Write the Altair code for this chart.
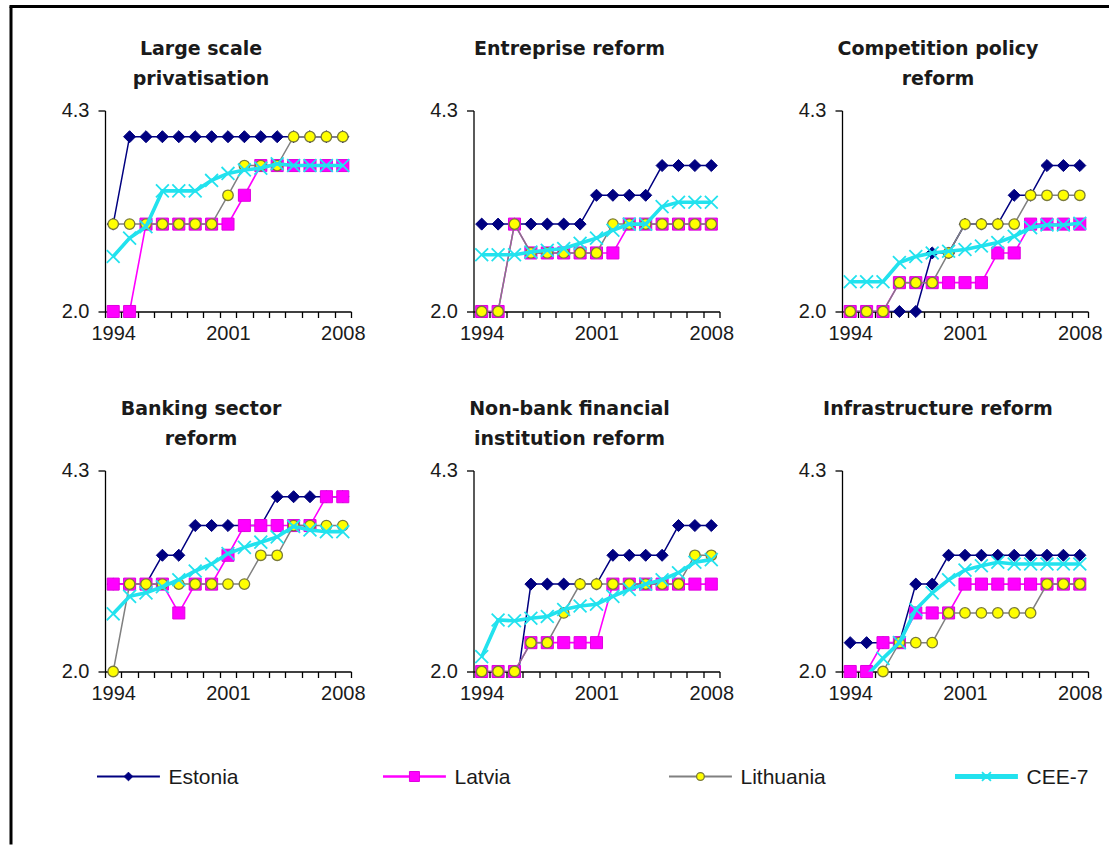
import altair as alt
import pandas as pd

years = list(range(1994, 2009))
countries = ["Estonia", "Latvia", "Lithuania", "CEE-7"]

panel_keys = ["priv", "ent", "comp", "bank", "nonbank", "infra"]
panel_titles = {
    "priv": ["Large scale", "privatisation"],
    "ent": ["Entreprise reform"],
    "comp": ["Competition policy", "reform"],
    "bank": ["Banking sector", "reform"],
    "nonbank": ["Non-bank financial", "institution reform"],
    "infra": ["Infrastructure reform"],
}

estonia = {
    "priv":    [3.0, 4.0, 4.0, 4.0, 4.0, 4.0, 4.0, 4.0, 4.0, 4.0, 4.0, 4.0, 4.0, 4.0, 4.0],
    "ent":     [3.0, 3.0, 3.0, 3.0, 3.0, 3.0, 3.0, 3.33, 3.33, 3.33, 3.33, 3.67, 3.67, 3.67, 3.67],
    "comp":    [2.0, 2.0, 2.0, 2.0, 2.0, 2.67, 2.67, 3.0, 3.0, 3.0, 3.33, 3.33, 3.67, 3.67, 3.67],
    "bank":    [3.0, 3.0, 3.0, 3.33, 3.33, 3.67, 3.67, 3.67, 3.67, 3.67, 4.0, 4.0, 4.0, 4.0, 4.0],
    "nonbank": [1.67, 1.67, 1.67, 3.0, 3.0, 3.0, 3.0, 3.0, 3.33, 3.33, 3.33, 3.33, 3.67, 3.67, 3.67],
    "infra":   [2.33, 2.33, 2.33, 2.33, 3.0, 3.0, 3.33, 3.33, 3.33, 3.33, 3.33, 3.33, 3.33, 3.33, 3.33],
}
latvia = {
    "priv":    [2.0, 2.0, 3.0, 3.0, 3.0, 3.0, 3.0, 3.0, 3.33, 3.67, 3.67, 3.67, 3.67, 3.67, 3.67],
    "ent":     [2.0, 2.0, 3.0, 2.67, 2.67, 2.67, 2.67, 2.67, 2.67, 3.0, 3.0, 3.0, 3.0, 3.0, 3.0],
    "comp":    [2.0, 2.0, 2.0, 2.33, 2.33, 2.33, 2.33, 2.33, 2.33, 2.67, 2.67, 3.0, 3.0, 3.0, 3.0],
    "bank":    [3.0, 3.0, 3.0, 3.0, 2.67, 3.0, 3.0, 3.33, 3.67, 3.67, 3.67, 3.67, 3.67, 4.0, 4.0],
    "nonbank": [2.0, 2.0, 2.0, 2.33, 2.33, 2.33, 2.33, 2.33, 3.0, 3.0, 3.0, 3.0, 3.0, 3.0, 3.0],
    "infra":   [2.0, 2.0, 2.33, 2.33, 2.67, 2.67, 2.67, 3.0, 3.0, 3.0, 3.0, 3.0, 3.0, 3.0, 3.0],
}
lithuania = {
    "priv":    [3.0, 3.0, 3.0, 3.0, 3.0, 3.0, 3.0, 3.33, 3.67, 3.67, 3.67, 4.0, 4.0, 4.0, 4.0],
    "ent":     [2.0, 2.0, 3.0, 2.67, 2.67, 2.67, 2.67, 2.67, 3.0, 3.0, 3.0, 3.0, 3.0, 3.0, 3.0],
    "comp":    [2.0, 2.0, 2.0, 2.33, 2.33, 2.33, 2.67, 3.0, 3.0, 3.0, 3.0, 3.33, 3.33, 3.33, 3.33],
    "bank":    [2.0, 3.0, 3.0, 3.0, 3.0, 3.0, 3.0, 3.0, 3.0, 3.33, 3.33, 3.67, 3.67, 3.67, 3.67],
    "nonbank": [2.0, 2.0, 2.0, 2.33, 2.33, 2.67, 3.0, 3.0, 3.0, 3.0, 3.0, 3.0, 3.0, 3.33, 3.33],
    "infra":   [1.67, 1.67, 2.0, 2.33, 2.33, 2.33, 2.67, 2.67, 2.67, 2.67, 2.67, 2.67, 3.0, 3.0, 3.0],
}
cee7 = {
    "priv":    [2.63, 2.84, 2.97, 3.38, 3.38, 3.38, 3.50, 3.58, 3.62, 3.64, 3.69, 3.67, 3.67, 3.67, 3.67],
    "ent":     [2.65, 2.65, 2.65, 2.68, 2.70, 2.72, 2.78, 2.84, 2.93, 3.0, 3.0, 3.2, 3.25, 3.25, 3.25],
    "comp":    [2.34, 2.34, 2.34, 2.56, 2.63, 2.67, 2.69, 2.71, 2.75, 2.79, 2.86, 2.96, 2.99, 2.99, 3.01],
    "bank":    [2.66, 2.86, 2.90, 2.97, 3.05, 3.15, 3.23, 3.35, 3.42, 3.48, 3.54, 3.66, 3.62, 3.60, 3.60],
    "nonbank": [2.17, 2.59, 2.58, 2.61, 2.63, 2.71, 2.75, 2.77, 2.86, 2.94, 3.0, 3.05, 3.13, 3.25, 3.28],
    "infra":   [1.75, 1.95, 2.15, 2.33, 2.71, 2.90, 3.05, 3.16, 3.21, 3.25, 3.23, 3.23, 3.23, 3.23, 3.23],
}
series = {"Estonia": estonia, "Latvia": latvia, "Lithuania": lithuania, "CEE-7": cee7}

rows = []
for c in countries:
    for p in panel_keys:
        for yr, v in zip(years, series[c][p]):
            rows.append({"panel": p, "country": c, "year": yr, "value": v})
df = pd.DataFrame(rows)

# styles
X_PATH = "M-1,-1L1,1M-1,1L1,-1"
style = {
    "Estonia": dict(line="#000080", lw=1.5, shape="diamond", fill="#000080", stroke="#000080", size=145, sw=1, filled=True),
    "Latvia": dict(line="#FF00FF", lw=1.6, shape="square", fill="#FF00FF", stroke="#E000E0", size=145, sw=1, filled=True),
    "Lithuania": dict(line="#808080", lw=1.5, shape="circle", fill="#FFFF00", stroke="#7A7A3A", size=110, sw=1.3, filled=True),
    "CEE-7": dict(line="#22E2EE", lw=3.6, shape=X_PATH, fill=None, stroke="#22E2EE", size=165, sw=1.8, filled=False),
}

xticks = [1993.5 + i for i in range(16)]
label_expr = ("datum.value == 1993.5 ? '1994' : datum.value == 2000.5 ? '2001' : "
              "datum.value == 2007.5 ? '2008' : ''")

PW, PH = 246, 201
ROW_GAP = 159

X = alt.X("year:Q", scale=alt.Scale(domain=[1993.5, 2008.5], nice=False, zero=False),
          axis=alt.Axis(title=None, values=xticks, labelExpr=label_expr, labelOffset=8.2,
                        tickSize=6, labelPadding=6, labelFlush=False, labelOverlap=False, grid=False))
Y = alt.Y("value:Q", scale=alt.Scale(domain=[2.0, 4.3], nice=False, zero=False),
          axis=alt.Axis(title=None, values=[2.0, 4.3], format=".1f", tickSize=7,
                        labelPadding=9, grid=False))


def panel(key):
    base = alt.Chart(df).transform_filter(alt.datum.panel == key)
    layers = []
    for c in countries:
        s = style[c]
        dc = base.transform_filter(alt.datum.country == c)
        layers.append(dc.mark_line(color=s["line"], strokeWidth=s["lw"], clip=True).encode(x=X, y=Y))
        pk = dict(shape=s["shape"], size=s["size"], stroke=s["stroke"], strokeWidth=s["sw"],
                  filled=s["filled"], opacity=1)
        if s["filled"]:
            pk["fill"] = s["fill"]
        layers.append(dc.transform_filter(alt.datum.value >= 2.0).mark_point(**pk).encode(x=X, y=Y))
    t = panel_titles[key]
    dy = -30 if len(t) == 1 else 0
    return alt.layer(*layers).properties(
        width=PW, height=PH,
        title=alt.TitleParams(text=t, dx=-27, dy=dy, offset=12))


# legend (drawn in a small cell, items spread beyond it with an explicit range)
leg_df = pd.DataFrame({"country": countries, "idx": [0, 1, 2, 3]})
LX = alt.Scale(domain=[0, 3], range=[0, 858], nice=False, zero=False)
leg_base = alt.Chart(leg_df).transform_calculate(
    xa="datum.idx - 0.028", xb="datum.idx + 0.192", xm="datum.idx + 0.082", xt="datum.idx + 0.222")
leg_layers = []
leg_marker = {"Estonia": 75, "Latvia": 100, "Lithuania": 60, "CEE-7": 80}
leg_lw = {"Estonia": 2.2, "Latvia": 2.6, "Lithuania": 2.2, "CEE-7": 5}
LEG_Y = -54
for c in countries:
    s = style[c]
    dc = leg_base.transform_filter(alt.datum.country == c)
    leg_layers.append(dc.mark_rule(color=s["line"], strokeWidth=leg_lw[c]).encode(
        x=alt.X("xa:Q", scale=LX, axis=None), x2="xb:Q", y=alt.value(LEG_Y)))
    pk = dict(shape=s["shape"], size=leg_marker[c], stroke=s["stroke"], strokeWidth=s["sw"],
              filled=s["filled"], opacity=1)
    if s["filled"]:
        pk["fill"] = s["fill"]
    leg_layers.append(dc.mark_point(**pk).encode(x=alt.X("xm:Q", scale=LX, axis=None),
                                                 y=alt.value(LEG_Y)))
leg_layers.append(leg_base.mark_text(align="left", baseline="middle", font="Liberation Sans",
                                     fontSize=21, color="#1a1a1a").encode(
    x=alt.X("xt:Q", scale=LX, axis=None), y=alt.value(LEG_Y + 1), text="country:N"))

# picture frame (left and top edges), anchored to the legend cell
one = alt.Chart(pd.DataFrame({"k": [0]}))
frame_top = -(2 * PH + 2 * ROW_GAP + 104)
leg_layers.append(one.mark_rule(color="black", strokeWidth=3).encode(
    x=alt.value(-94), y=alt.value(frame_top), y2=alt.value(14)))
leg_layers.append(one.mark_rule(color="black", strokeWidth=3).encode(
    x=alt.value(-95.5), x2=alt.value(1004), y=alt.value(frame_top)))
legend = alt.layer(*leg_layers).properties(width=PW, height=2)

chart = alt.concat(
    panel("priv"), panel("ent"), panel("comp"),
    panel("bank"), panel("nonbank"), panel("infra"),
    legend,
    columns=3, spacing={"row": ROW_GAP, "column": 122.5}, bounds="flush"
).properties(
    padding={"left": 8, "top": 4.5, "right": 0, "bottom": 0}
).configure_view(stroke=None).configure_axis(
    labelFont="Liberation Sans", labelFontSize=20, labelColor="#1a1a1a",
    domainColor="black", tickColor="black", domainWidth=1.3, tickWidth=1.3
).configure_title(
    font="DejaVu Sans", fontWeight="bold", fontSize=19, color="#1a1a1a",
    lineHeight=30, anchor="middle"
)

chart.save("out.html", embed_options={"renderer": "svg", "actions": False})
